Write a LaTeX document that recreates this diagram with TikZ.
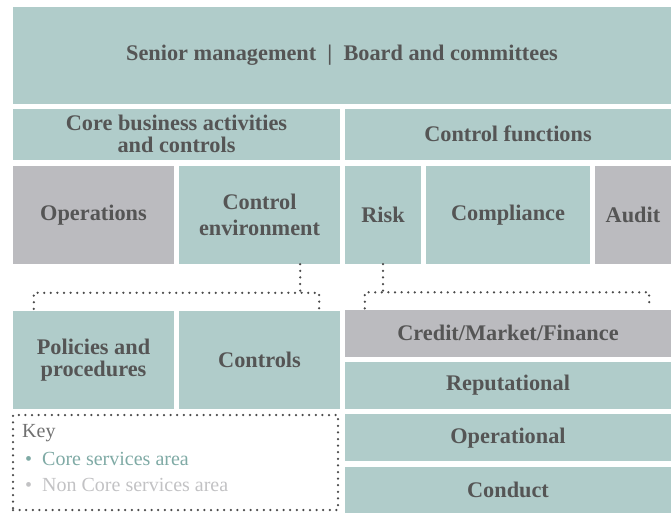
\documentclass[tikz,border=0pt]{standalone}
\usepackage{fontspec}
\setmainfont{Liberation Serif}
\usetikzlibrary{positioning}
\definecolor{coreteal}{HTML}{B0CCCA}
\definecolor{noncore}{HTML}{BBBBBF}
\definecolor{labelgrey}{HTML}{555555}
\definecolor{dotgrey}{HTML}{4A4A4A}
\definecolor{keyteal}{HTML}{7FAAA5}
\definecolor{keygrey}{HTML}{C2C2C4}
\definecolor{keyhead}{HTML}{707070}

\begin{document}
\begin{tikzpicture}[x=1pt, y=-1pt,
        b/.style={inner sep=0pt, align=center, font=\fontsize{22.3}{21.5}\selectfont\bfseries, text=labelgrey},
        core/.style={b, fill=coreteal},
        non/.style={b, fill=noncore},
        dots/.style={draw=dotgrey, line width=2.5pt, line cap=round, dash pattern=on 0pt off 6.6pt},
        keyline/.style={anchor=west, inner sep=0pt, font=\fontsize{20}{22}\selectfont}]
      \useasboundingbox (0,0) rectangle (672,512);
      % top and second row
      \node[core, minimum width=658pt, minimum height=97pt] (board) at (342,55) {Senior management\enspace|\enspace Board and committees};
      \node[core, minimum width=327pt, minimum height=51pt] (business) at (176.5,134) {Core business activities\\and controls};
      \node[core, minimum width=326pt, minimum height=51pt] (ctrlfn) at (508,134) {Control functions};
      % third row
      \node[non, minimum width=161pt, minimum height=98pt] (ops) at (93.5,215) {Operations};
      \node[core, minimum width=161pt, minimum height=98pt] (env) at (259.5,215) {Control\\[5pt]environment};
      \node[core, minimum width=76pt, minimum height=98pt] (risk) at (383,215) {Risk};
      \node[core, minimum width=164pt, minimum height=98pt] (compl) at (508,215) {Compliance};
      \node[non, minimum width=76pt, minimum height=98pt] (audit) at (633,215) {Audit};
      % lower left
      \node[core, minimum width=161pt, minimum height=98pt] (policies) at (93.5,360) {Policies and\\procedures};
      \node[core, minimum width=161pt, minimum height=98pt] (controls) at (259.5,360) {Controls};
      % lower right, risk types
      \node[non, minimum width=326pt, minimum height=47pt] (credit) at (508,333) {Credit/Market/Finance};
      \node[core, minimum width=326pt, minimum height=47pt, below=5pt of credit] (reput) {Reputational};
      \node[core, minimum width=326pt, minimum height=47pt, below=5pt of reput] (operal) {Operational};
      \node[core, minimum width=326pt, minimum height=47pt, below=5pt of operal] (conduct) {Conduct};
      % dotted links
      \draw[dots] ([xshift=-40pt]env.south east) -- ++(0,27);
      \draw[dots] ([xshift=21pt,yshift=2pt]policies.north west) -- ++(0,-16) -| ([xshift=-21pt,yshift=2pt]controls.north east);
      \draw[dots] (risk.south) -- ++(0,27);
      \draw[dots] ([xshift=20pt,yshift=1pt]credit.north west) -- ++(0,-16) -| ([xshift=-22pt,yshift=1pt]credit.north east);
      % key
      \node[dots, minimum width=325pt, minimum height=95pt] (key) at (175.5,462.5) {};
      \node[keyline, text=keyhead] (keyhd) at (22,433) {Key};
      \node[keyline, text=keyteal] (keycore) at (25,459) {\textbullet\enspace Core services area};
      \node[keyline, text=keygrey] (keynon) at (25,485) {\textbullet\enspace Non Core services area};
\end{tikzpicture}
\end{document}
